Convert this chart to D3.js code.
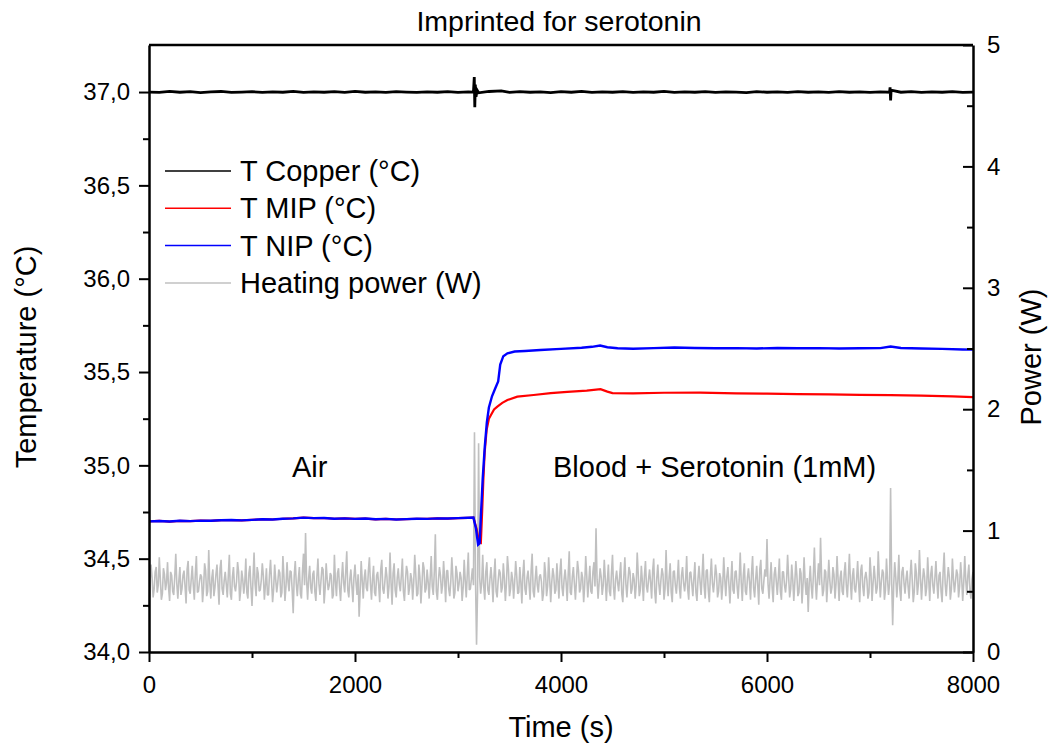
<!DOCTYPE html>
<html>
<head>
<meta charset="utf-8">
<script src="https://cdn.jsdelivr.net/npm/d3@7"></script>
<style>
  body { margin: 0; background: #fff; }
  text { font-family: "Liberation Sans", Arial, sans-serif; fill: #000; }
</style>
</head>
<body>
<div id="chart"></div>
<script>
/**
 * DATA
 * */
// heating power (W), one sample every 20 s from 0 to 8000 s
const powerStep = 20;
const powerValues = [
  0.36,0.72,0.45,0.66,0.49,0.78,0.43,0.69,0.51,0.74,0.42,0.63,0.47,0.81,0.44,0.70,0.52,0.67,0.40,0.75,
  0.48,0.71,0.43,0.79,0.50,0.64,0.41,0.73,0.46,0.84,0.44,0.68,0.53,0.72,0.39,0.76,0.47,0.66,0.45,0.80,
  0.43,0.70,0.50,0.74,0.42,0.67,0.48,0.77,0.44,0.71,0.38,0.82,0.46,0.65,0.51,0.73,0.43,0.69,0.47,0.76,
  0.41,0.72,0.49,0.68,0.45,0.79,0.42,0.74,0.50,0.66,0.32,0.75,0.46,0.70,0.44,0.81,0.98,0.43,0.71,0.48,
  0.67,0.42,0.77,0.47,0.70,0.40,0.73,0.51,0.65,0.44,0.80,0.46,0.69,0.42,0.74,0.49,0.83,0.45,0.68,0.41,
  0.72,0.47,0.29,0.75,0.44,0.68,0.50,0.78,0.43,0.71,0.46,0.66,0.41,0.76,0.48,0.70,0.44,0.82,0.39,0.73,
  0.45,0.69,0.50,0.77,0.42,0.71,0.47,0.65,0.43,0.80,0.46,0.72,0.40,0.74,0.49,0.68,0.44,0.79,0.47,0.97,
  0.43,0.70,0.48,0.75,0.41,0.67,0.46,0.78,0.44,0.71,0.50,0.66,0.42,0.76,0.45,0.82,0.52,0.69,1.81,0.06,
  1.72,0.48,0.80,0.43,0.74,0.47,0.70,0.41,0.77,0.45,0.68,0.49,0.73,0.42,0.79,0.46,0.66,0.44,0.75,0.48,
  0.70,0.40,0.76,0.47,0.67,0.43,0.81,0.45,0.71,0.49,0.64,0.42,0.74,0.46,0.78,0.41,0.69,0.48,0.73,0.44,
  0.77,0.46,0.68,0.42,0.83,0.47,0.70,0.43,0.75,0.49,0.66,0.41,0.79,0.45,0.71,0.48,0.74,1.02,0.44,0.69,
  0.47,0.76,0.42,0.72,0.46,0.80,0.43,0.67,0.50,0.74,0.41,0.78,0.45,0.70,0.48,0.65,0.44,0.82,0.46,0.71,
  0.42,0.75,0.49,0.68,0.44,0.77,0.40,0.72,0.47,0.69,0.43,0.84,0.46,0.73,0.41,0.67,0.48,0.76,0.44,0.70,
  0.50,0.79,0.43,0.66,0.46,0.74,0.42,0.71,0.47,0.81,0.44,0.68,0.41,0.77,0.49,0.72,0.45,0.65,0.43,0.78,
  0.46,0.70,0.40,0.75,0.48,0.67,0.44,0.82,0.42,0.73,0.47,0.69,0.43,0.79,0.45,0.71,0.39,0.76,0.48,0.68,
  0.93,0.44,0.74,0.41,0.70,0.47,0.77,0.43,0.66,0.49,0.80,0.45,0.72,0.42,0.75,0.46,0.69,0.40,0.78,0.47,
  0.33,0.71,0.44,0.86,0.43,0.73,0.94,0.46,0.68,0.41,0.76,0.48,0.70,0.44,0.79,0.42,0.67,0.47,0.74,0.45,
  0.81,0.43,0.69,0.49,0.75,0.41,0.72,0.46,0.66,0.44,0.78,0.42,0.71,0.48,0.83,0.45,0.68,0.43,0.77,0.47,
  1.35,0.22,0.74,0.45,0.80,0.42,0.70,0.48,0.67,0.44,0.76,0.41,0.73,0.47,0.84,0.43,0.69,0.46,0.78,0.42,
  0.71,0.48,0.75,0.44,0.66,0.41,0.82,0.46,0.70,0.43,0.77,0.49,0.68,0.45,0.74,0.42,0.79,0.47,0.72,0.44,
  0.66
];
// heating power (W) at the half steps, 10 s, 30 s, ... 7990 s
const powerMid = [
  0.58,0.61,0.52,0.70,0.55,0.60,0.48,0.64,0.57,0.53,0.66,0.50,0.62,0.56,0.59,0.47,0.63,0.54,0.68,0.51,
  0.60,0.55,0.65,0.49,0.58,0.62,0.53,0.67,0.50,0.57,0.61,0.46,0.64,0.55,0.69,0.52,0.59,0.56,0.63,0.48,
  0.62,0.54,0.58,0.66,0.51,0.60,0.57,0.49,0.65,0.53,0.61,0.56,0.70,0.50,0.59,0.63,0.55,0.47,0.64,0.58,
  0.52,0.60,0.57,0.65,0.49,0.62,0.54,0.58,0.67,0.51,0.63,0.56,0.60,0.48,0.66,0.55,0.59,0.61,0.53,0.64,
  0.50,0.62,0.56,0.59,0.68,0.52,0.60,0.55,0.63,0.47,0.58,0.65,0.53,0.61,0.57,0.66,0.51,0.60,0.54,0.62,
  0.57,0.64,0.50,0.59,0.61,0.53,0.67,0.56,0.60,0.49,0.63,0.55,0.68,0.52,0.58,0.62,0.54,0.57,0.65,0.51,
  0.61,0.56,0.63,0.50,0.59,0.66,0.53,0.60,0.57,0.64,0.48,0.62,0.55,0.69,0.52,0.58,0.61,0.54,0.66,0.50,
  0.59,0.63,0.55,0.60,0.67,0.52,0.58,0.62,0.49,0.65,0.56,0.61,0.53,0.59,0.64,0.51,0.60,0.55,0.60,0.50,
  0.62,0.57,0.54,0.66,0.51,0.60,0.58,0.63,0.50,0.59,0.65,0.53,0.61,0.56,0.68,0.52,0.60,0.57,0.63,0.49,
  0.58,0.64,0.52,0.61,0.56,0.67,0.50,0.60,0.55,0.62,0.58,0.48,0.65,0.54,0.60,0.57,0.63,0.51,0.59,0.66,
  0.53,0.60,0.57,0.64,0.49,0.62,0.56,0.59,0.67,0.52,0.61,0.55,0.63,0.58,0.50,0.66,0.54,0.60,0.57,0.62,
  0.55,0.61,0.58,0.50,0.65,0.53,0.60,0.57,0.63,0.48,0.62,0.56,0.59,0.66,0.52,0.60,0.55,0.64,0.51,0.58,
  0.63,0.54,0.60,0.57,0.67,0.50,0.61,0.56,0.59,0.64,0.52,0.58,0.62,0.49,0.66,0.55,0.60,0.53,0.63,0.57,
  0.59,0.52,0.65,0.56,0.61,0.49,0.60,0.58,0.63,0.54,0.67,0.51,0.62,0.57,0.59,0.64,0.50,0.61,0.55,0.60,
  0.62,0.56,0.59,0.51,0.66,0.54,0.60,0.57,0.63,0.50,0.61,0.58,0.65,0.53,0.60,0.55,0.68,0.52,0.59,0.62,
  0.56,0.60,0.53,0.64,0.58,0.61,0.50,0.66,0.55,0.59,0.62,0.52,0.60,0.57,0.63,0.49,0.65,0.56,0.58,0.61,
  0.57,0.54,0.63,0.58,0.60,0.55,0.62,0.51,0.66,0.57,0.59,0.53,0.64,0.56,0.60,0.61,0.50,0.65,0.55,0.62,
  0.58,0.63,0.52,0.60,0.56,0.67,0.54,0.61,0.59,0.49,0.64,0.57,0.60,0.53,0.62,0.58,0.65,0.51,0.60,0.56,
  0.60,0.55,0.62,0.58,0.51,0.66,0.57,0.60,0.54,0.63,0.59,0.50,0.65,0.56,0.61,0.58,0.62,0.53,0.60,0.64,
  0.55,0.61,0.57,0.63,0.50,0.66,0.56,0.59,0.62,0.52,0.60,0.58,0.64,0.54,0.61,0.57,0.59,0.63,0.51,0.60
];

// [time (s), temperature (°C)]
const copperData = [
  [0,37.000],[100,36.998],[200,37.003],[300,36.999],[400,37.002],[500,36.997],[600,37.001],[700,37.003],
  [800,36.998],[900,37.000],[1000,37.002],[1100,36.998],[1200,37.001],[1300,36.999],[1400,37.003],
  [1500,36.998],[1600,37.001],[1700,36.999],[1800,37.002],[1900,36.998],[2000,37.004],[2100,36.999],
  [2200,37.001],[2300,36.998],[2400,37.002],[2500,37.000],[2600,36.998],[2700,37.001],[2800,36.999],
  [2900,37.002],[3000,36.998],[3100,37.001],[3150,37.000],[3158,37.080],[3163,36.918],[3168,37.040],
  [3175,36.975],[3185,37.010],[3200,36.996],[3300,37.003],[3420,37.006],[3500,36.998],[3600,37.002],
  [3700,36.999],[3800,37.001],[3900,36.997],[4000,37.002],[4100,36.999],[4200,37.003],[4300,36.998],
  [4400,37.001],[4500,36.999],[4600,37.002],[4700,36.998],[4800,37.001],[4900,36.999],[5000,37.003],
  [5100,36.998],[5200,37.001],[5300,36.999],[5400,37.002],[5500,36.998],[5600,37.001],[5700,37.000],
  [5800,36.997],[5900,37.002],[6000,36.999],[6100,37.001],[6200,36.998],[6300,37.002],[6400,36.999],
  [6500,37.001],[6600,36.998],[6700,37.002],[6800,36.999],[6900,37.001],[7000,36.998],[7100,37.001],
  [7190,36.999],[7195,37.025],[7200,36.955],[7205,37.010],[7300,36.999],[7400,37.002],[7500,36.998],
  [7600,37.001],[7700,36.999],[7800,37.002],[7900,36.998],[8000,37.000]
];

const nipData = [
  [0,34.700],[100,34.702],[200,34.699],[300,34.703],[400,34.701],[500,34.704],[600,34.703],[700,34.706],
  [800,34.707],[900,34.705],[1000,34.708],[1100,34.711],[1200,34.710],[1300,34.714],[1400,34.716],
  [1500,34.720],[1600,34.717],[1700,34.718],[1800,34.714],[1900,34.716],[2000,34.713],[2100,34.715],
  [2200,34.711],[2300,34.713],[2400,34.710],[2500,34.712],[2600,34.714],[2700,34.713],[2800,34.716],
  [2900,34.715],[3000,34.717],[3100,34.719],[3150,34.720],[3175,34.660],[3195,34.575],[3210,34.582],
  [3225,34.760],[3240,34.930],[3260,35.100],[3280,35.230],[3300,35.310],[3330,35.370],[3360,35.410],
  [3390,35.450],[3410,35.540],[3440,35.585],[3480,35.600],[3550,35.610],[3650,35.613],[3800,35.618],
  [4000,35.624],[4200,35.630],[4300,35.635],[4380,35.642],[4450,35.633],[4550,35.627],[4700,35.625],
  [4900,35.628],[5100,35.631],[5300,35.629],[5500,35.627],[5700,35.628],[5900,35.626],[6100,35.629],
  [6300,35.627],[6500,35.628],[6700,35.626],[6900,35.627],[7100,35.628],[7200,35.637],[7300,35.629],
  [7500,35.626],[7700,35.624],[7900,35.621],[8000,35.620]
];

// before the switch the MIP trace lies under the NIP trace
const mipData = [
  [0,34.700],[100,34.702],[200,34.699],[300,34.703],[400,34.701],[500,34.704],[600,34.703],[700,34.706],
  [800,34.707],[900,34.705],[1000,34.708],[1100,34.711],[1200,34.710],[1300,34.714],[1400,34.716],
  [1500,34.720],[1600,34.717],[1700,34.718],[1800,34.714],[1900,34.716],[2000,34.713],[2100,34.715],
  [2200,34.711],[2300,34.713],[2400,34.710],[2500,34.712],[2600,34.714],[2700,34.713],[2800,34.716],
  [2900,34.715],[3000,34.717],[3100,34.719],[3150,34.720],[3180,34.660],[3205,34.590],[3222,34.585],
  [3235,34.760],[3246,34.920],[3259,35.070],[3278,35.190],[3300,35.250],[3320,35.270],[3350,35.300],
  [3382,35.315],[3430,35.335],[3480,35.350],[3576,35.368],[3734,35.377],[3900,35.387],[4061,35.394],
  [4250,35.400],[4384,35.408],[4450,35.395],[4500,35.387],[4700,35.386],[5000,35.389],[5350,35.390],
  [5700,35.386],[6000,35.384],[6300,35.382],[6600,35.380],[6900,35.378],[7200,35.376],[7500,35.373],
  [7800,35.369],[8000,35.366]
];

const legendNames = ["T Copper (°C)", "T MIP (°C)", "T NIP (°C)", "Heating power (W)"];
const legendColors = ["#000000", "#ff0000", "#0000ff", "#c0c0c0"];

const xTicks = [0, 2000, 4000, 6000, 8000];
const xMinor = [1000, 3000, 5000, 7000];
const tTicks = [34.0, 34.5, 35.0, 35.5, 36.0, 36.5, 37.0];
const tMinor = [34.25, 34.75, 35.25, 35.75, 36.25, 36.75];
const pTicks = [0, 1, 2, 3, 4, 5];
const pMinor = [0.5, 1.5, 2.5, 3.5, 4.5];

/**
 * LAYOUT
 * */
const width = 1049, height = 746;
const margin = { top: 45, right: 76, bottom: 94, left: 149 };

const svg = d3.select("#chart").append("svg")
  .attr("width", width)
  .attr("height", height);

const x = d3.scaleLinear().domain([0, 8000]).range([margin.left, width - margin.right]);
const yT = d3.scaleLinear().domain([34, 37.252]).range([height - margin.bottom, margin.top]);
const yP = d3.scaleLinear().domain([0, 5]).range([height - margin.bottom, margin.top]);

const comma = d => d3.format(".1f")(d).replace(".", ",");

// interleave the two power lists into one time series
const powerSeries = d3.merge(powerValues.map((v, i) => i < powerMid.length
  ? [[i * powerStep, v], [i * powerStep + powerStep / 2, powerMid[i]]]
  : [[i * powerStep, v]]));

// series
svg.append("path").datum(powerSeries)
  .attr("fill", "none").attr("stroke", "#c0c0c0").attr("stroke-width", 1.6)
  .attr("stroke-linejoin", "bevel")
  .attr("d", d3.line().x(d => x(d[0])).y(d => yP(d[1])));

const tLine = d3.line().x(d => x(d[0])).y(d => yT(d[1]));
svg.append("path").datum(copperData)
  .attr("fill", "none").attr("stroke", "#000").attr("stroke-width", 2.8)
  .attr("d", tLine);
svg.append("path").datum(mipData)
  .attr("fill", "none").attr("stroke", "#ff0000").attr("stroke-width", 2.2)
  .attr("d", tLine);
svg.append("path").datum(nipData)
  .attr("fill", "none").attr("stroke", "#0000ff").attr("stroke-width", 2.4)
  .attr("d", tLine);

// axes
function styleAxis(g) {
  g.selectAll(".domain").attr("stroke", "#000").attr("stroke-width", 2.5);
  g.selectAll(".tick line").attr("stroke", "#000").attr("stroke-width", 2);
  g.selectAll("text").attr("font-size", 24).attr("font-family", "Liberation Sans, Arial, sans-serif");
}

const bottom = svg.append("g").attr("transform", `translate(0,${height - margin.bottom})`);
bottom.call(d3.axisBottom(x).tickValues(xTicks).tickSize(10).tickSizeOuter(0).tickPadding(14).tickFormat(d3.format("d")))
  .call(styleAxis);
bottom.append("g").call(d3.axisBottom(x).tickValues(xMinor).tickSize(6).tickFormat(""))
  .call(g => g.select(".domain").remove()).call(styleAxis);

const left = svg.append("g").attr("transform", `translate(${margin.left},0)`);
left.call(d3.axisLeft(yT).tickValues(tTicks).tickSize(10).tickSizeOuter(0).tickPadding(9).tickFormat(comma))
  .call(styleAxis);
left.append("g").call(d3.axisLeft(yT).tickValues(tMinor).tickSize(6).tickFormat(""))
  .call(g => g.select(".domain").remove()).call(styleAxis);

const right = svg.append("g").attr("transform", `translate(${width - margin.right},0)`);
right.call(d3.axisRight(yP).tickValues(pTicks).tickSizeInner(-10).tickSizeOuter(0).tickPadding(14).tickFormat(d3.format("d")))
  .call(styleAxis);
right.append("g").call(d3.axisRight(yP).tickValues(pMinor).tickSizeInner(-6).tickSizeOuter(0).tickFormat(""))
  .call(g => g.select(".domain").remove()).call(styleAxis);

// top frame line
svg.append("line")
  .attr("x1", margin.left).attr("x2", width - margin.right)
  .attr("y1", margin.top).attr("y2", margin.top)
  .attr("stroke", "#000").attr("stroke-width", 2.5);

// titles
svg.append("text").attr("x", 559).attr("y", 31).attr("text-anchor", "middle")
  .attr("font-size", 28.5).text("Imprinted for serotonin");
svg.append("text").attr("x", 561).attr("y", 737).attr("text-anchor", "middle")
  .attr("font-size", 29).text("Time (s)");
svg.append("text").attr("transform", "translate(36,357) rotate(-90)").attr("text-anchor", "middle")
  .attr("font-size", 29).text("Temperature (°C)");
svg.append("text").attr("transform", "translate(1041,357) rotate(-90)").attr("text-anchor", "middle")
  .attr("font-size", 29).text("Power (W)");

// annotations
svg.append("text").attr("x", 292).attr("y", 477).attr("font-size", 29).text("Air");
svg.append("text").attr("x", 553).attr("y", 477).attr("font-size", 29).text("Blood + Serotonin (1mM)");

// legend
const legend = svg.append("g").selectAll("g")
  .data(legendNames)
  .join("g")
  .attr("transform", (d, i) => `translate(165,${171 + i * 37.3})`);
legend.append("line").attr("x1", 0).attr("x2", 66).attr("y1", 0).attr("y2", 0)
  .attr("stroke", (d, i) => legendColors[i]).attr("stroke-width", 1.5);
legend.append("text").attr("x", 75).attr("y", 10).attr("font-size", 29).text(d => d);
</script>
</body>
</html>
